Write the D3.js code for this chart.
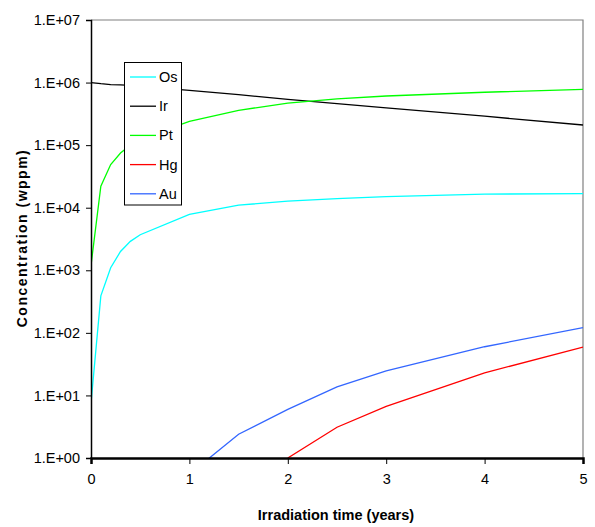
<!DOCTYPE html>
<html><head><meta charset="utf-8">
<script src="https://cdn.jsdelivr.net/npm/d3@7"></script>
<style>body{margin:0;background:#fff}svg{display:block}text{font-family:"Liberation Sans",Arial,sans-serif}</style>
</head><body>
<script>
const times = [0, 0.1, 0.2, 0.3, 0.4, 0.5, 1, 1.5, 2, 2.5, 3, 4, 5];
const osValues = [7.5, 390, 1100, 2000, 2900, 3700, 7800, 11000, 12700, 14000, 15000, 16500, 16800];
const irValues = [1000000, 960000, 930000, 920000, 900000, 870000, 750000, 640000, 540000, 460000, 395000, 290000, 210000];
const ptValues = [1200, 22000, 49000, 75000, 100000, 125000, 240000, 360000, 470000, 550000, 610000, 700000, 780000];
const hgTimes = [2, 2.5, 3, 4, 5];
const hgValues = [1.0, 3.1, 6.7, 23, 59];
const auTimes = [1, 1.5, 2, 2.5, 3, 4, 5];
const auValues = [0.55, 2.4, 6.0, 13.7, 24.6, 60, 121];
const seriesNames = ["Os", "Ir", "Pt", "Hg", "Au"];
const seriesColors = ["#00ffff", "#000000", "#00ff00", "#ff0000", "#3366ff"];
const xTicks = [0, 1, 2, 3, 4, 5];
const yTicks = [1, 10, 100, 1e3, 1e4, 1e5, 1e6, 1e7];
const yTickLabels = ["1.E+00","1.E+01","1.E+02","1.E+03","1.E+04","1.E+05","1.E+06","1.E+07"];

const W = 595, H = 527;
const L = 91, R = 583, T = 20, B = 458;
const svg = d3.select("body").append("svg").attr("width", W).attr("height", H);
const x = d3.scaleLinear().domain([0, 5]).range([L, R]);
const y = d3.scaleLog().domain([1, 1e7]).range([B, T]);

svg.append("defs").append("clipPath").attr("id", "clip")
  .append("rect").attr("x", L).attr("y", T).attr("width", R - L).attr("height", B - T);

// frame top/right
svg.append("path").attr("d", `M${L},${T}H${R}V${B}`).attr("fill", "none").attr("stroke", "#808080").attr("stroke-width", 1.2);

const series = [
  {t: times, v: osValues},
  {t: times, v: irValues},
  {t: times, v: ptValues},
  {t: hgTimes, v: hgValues},
  {t: auTimes, v: auValues}
];
const line = d3.line().x(d => x(d[0])).y(d => y(d[1]));
const g = svg.append("g").attr("clip-path", "url(#clip)");
series.forEach((s, i) => {
  g.append("path").datum(s.t.map((t, j) => [t, s.v[j]]))
    .attr("d", line).attr("fill", "none").attr("stroke", seriesColors[i]).attr("stroke-width", 1.3);
});

// axes
const yAxis = d3.axisLeft(y).tickValues(yTicks).tickFormat((d, i) => yTickLabels[i]).tickSize(5).tickPadding(6);
const ya = svg.append("g").attr("transform", `translate(${L},0)`).call(yAxis);
ya.select(".domain").attr("stroke", "#000").attr("stroke-width", 1.5);
ya.selectAll(".tick line").attr("stroke", "#000");
ya.selectAll("text").attr("font-size", 14.5).attr("fill", "#000").attr("font-family", "Liberation Sans, Arial, sans-serif");

const xAxis = d3.axisBottom(x).tickValues(xTicks).tickFormat(d3.format("d")).tickSize(6).tickPadding(10);
const xa = svg.append("g").attr("transform", `translate(0,${B})`).call(xAxis);
xa.select(".domain").attr("stroke", "#000").attr("stroke-width", 2.5);
xa.selectAll(".tick line").attr("stroke", "#000");
xa.selectAll("text").attr("font-size", 14.5).attr("fill", "#000").attr("font-family", "Liberation Sans, Arial, sans-serif");

// titles
svg.append("text").attr("x", 336).attr("y", 520).attr("text-anchor", "middle")
  .attr("font-size", 14.5).attr("font-weight", "bold").text("Irradiation time (years)");
svg.append("text").attr("transform", "translate(27,238) rotate(-90)").attr("text-anchor", "middle")
  .attr("font-size", 14).attr("font-weight", "bold").attr("letter-spacing", 1.5).text("Concentration (wppm)");

// legend
const lg = svg.append("g");
lg.append("rect").attr("x", 124.5).attr("y", 62.5).attr("width", 57).attr("height", 142.5)
  .attr("fill", "#fff").attr("stroke", "#000").attr("stroke-width", 1);
seriesNames.forEach((n, i) => {
  const yy = 77 + i * 29.2;
  lg.append("line").attr("x1", 130).attr("x2", 156).attr("y1", yy).attr("y2", yy)
    .attr("stroke", seriesColors[i]).attr("stroke-width", 1.3);
  lg.append("text").attr("x", 159).attr("y", yy + 5).attr("font-size", 14.5).text(n);
});
</script>
</body></html>
